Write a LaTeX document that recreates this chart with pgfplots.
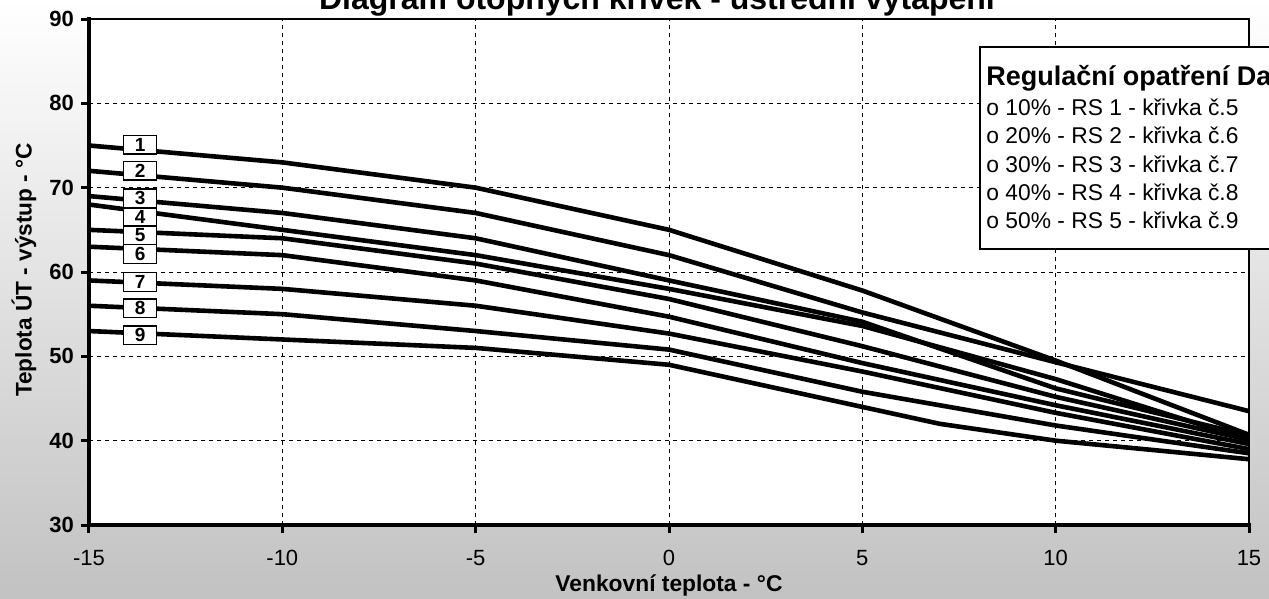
\documentclass[border=0pt]{standalone}
\usepackage{fontspec}
\setmainfont{Liberation Sans}
\usepackage{pgfplots}
\pgfplotsset{compat=1.18}
\tikzset{lbl/.style={draw=black, fill=white, line width=0.75pt, minimum width=16.5pt, minimum height=9.4pt, inner sep=0pt, font=\bfseries\fontsize{9.5}{9.5}\selectfont},
  crv/.style={black, solid, line width=2.3pt, line join=round, mark=none}}
\begin{document}
\begin{tikzpicture}
\useasboundingbox (0,0) rectangle (634.5pt,-299.5pt);
\clip (0,0) rectangle (634.5pt,-299.5pt);
\shade[top color=white, bottom color=black!24] (0,0) rectangle (634.5pt,-299.5pt);
\begin{axis}[
  at={(44.5pt,-262.5pt)}, anchor=south west,
  width=580pt, height=253pt, scale only axis,
  xmin=-15, xmax=15, ymin=30, ymax=90,
  xtick={-15,-10,-5,0,5,10,15},
  ytick={30,40,50,60,70,80,90},
  tick pos=left, tick align=outside,
  major tick length=4pt,
  every tick/.style={black, line width=1.5pt},
  grid=major,
  major grid style={black, line width=0.5pt, dash pattern=on 2pt off 2pt},
  axis line style={black, line width=1pt},
  axis background/.style={fill=white},
  /pgf/number format/assume math mode=true,
  xticklabel style={font=\fontsize{11}{13}\selectfont, yshift=-5pt},
  yticklabel style={font=\bfseries\fontsize{11}{13}\selectfont},
  xlabel={Venkovní teplota - °C},
  ylabel={Teplota ÚT - výstup - °C},
  xlabel style={font=\bfseries\fontsize{11.4}{13}\selectfont, at={(axis description cs:0.5,-0.1324)}, anchor=base},
  ylabel style={font=\bfseries\fontsize{11.3}{13}\selectfont, at={(axis description cs:-0.056,0.504)}, anchor=center},
  clip=false,
]
% curve 1
\addplot[crv] coordinates {(-15,75) (-10,73) (-5,70) (0,65) (5,57.8) (10,49.5) (15,40.7)};
% curve 2
\addplot[crv] coordinates {(-15,72) (-10,70) (-5,67) (0,62) (5,55.2) (10,49.3) (15,43.5)};
% curve 3
\addplot[crv] coordinates {(-15,69) (-10,67) (-5,64) (0,59) (5,54.1) (10,46.2) (15,40.6)};
% curve 4
\addplot[crv] coordinates {(-15,68) (-10,65) (-5,62) (0,58) (5,53.6) (10,47.3) (15,40.1)};
% curve 5
\addplot[crv] coordinates {(-15,65) (-10,64) (-5,61) (0,56.8) (5,51.2) (10,45.2) (15,40.1)};
% curve 6
\addplot[crv] coordinates {(-15,63) (-10,62) (-5,59) (0,54.7) (5,49.2) (10,44.2) (15,39.6)};
% curve 7
\addplot[crv] coordinates {(-15,59) (-10,58) (-5,56) (0,52.7) (5,48.2) (10,43.3) (15,39.0)};
% curve 8
\addplot[crv] coordinates {(-15,56) (-10,55) (-5,53) (0,50.8) (5,45.8) (10,41.8) (15,38.5)};
% curve 9
\addplot[crv] coordinates {(-15,53) (-10,52) (-5,51) (0,49) (5,44) (7,42) (10,40) (15,37.8)};
\draw[line width=2pt, line cap=rect] (axis cs:-15,90) -- (axis cs:-15,30) -- (axis cs:15,30);
\node[lbl] at (axis cs:-13.68,75.1) {1};
\node[lbl] at (axis cs:-13.68,72.0) {2};
\node[lbl] at (axis cs:-13.68,68.75) {3};
\node[lbl] at (axis cs:-13.68,66.5) {4};
\node[lbl] at (axis cs:-13.68,64.35) {5};
\node[lbl] at (axis cs:-13.68,62.15) {6};
\node[lbl] at (axis cs:-13.68,58.8) {7};
\node[lbl] at (axis cs:-13.68,55.7) {8};
\node[lbl] at (axis cs:-13.68,52.5) {9};
\end{axis}
\begin{scope}[x=0.5pt,y=-0.5pt]
\node[anchor=base, font=\bfseries\fontsize{16}{19}\selectfont, inner sep=0pt] at (657,10) {Diagram otopných křivek - ústřední vytápění};
\draw[fill=white, line width=0.75pt] (980,47) rectangle (1300,249);
\node[anchor=base west, font=\bfseries\fontsize{13.5}{16}\selectfont, inner sep=0pt] at (986,86) {Regulační opatření Da};
\node[anchor=base west, font=\fontsize{11.4}{13}\selectfont, inner sep=0pt] at (986,116) {o 10\% - RS 1 - křivka č.5};
\node[anchor=base west, font=\fontsize{11.4}{13}\selectfont, inner sep=0pt] at (986,144) {o 20\% - RS 2 - křivka č.6};
\node[anchor=base west, font=\fontsize{11.4}{13}\selectfont, inner sep=0pt] at (986,172) {o 30\% - RS 3 - křivka č.7};
\node[anchor=base west, font=\fontsize{11.4}{13}\selectfont, inner sep=0pt] at (986,200) {o 40\% - RS 4 - křivka č.8};
\node[anchor=base west, font=\fontsize{11.4}{13}\selectfont, inner sep=0pt] at (986,228) {o 50\% - RS 5 - křivka č.9};
\end{scope}
\end{tikzpicture}
\end{document}
